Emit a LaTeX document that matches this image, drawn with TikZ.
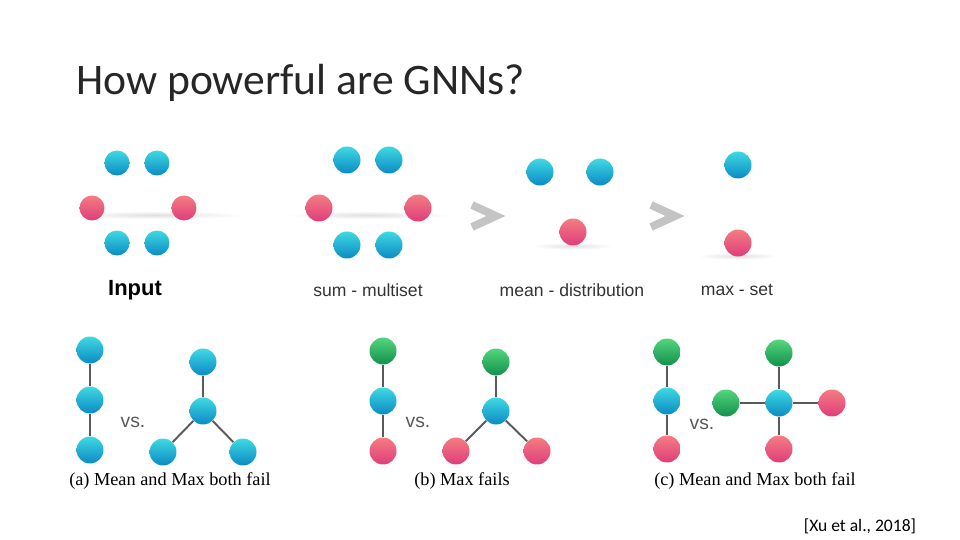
\documentclass[tikz,border=0pt]{standalone}
\usepackage{fontspec}
\setmainfont{Liberation Serif}
\setsansfont{Liberation Sans}
\newfontfamily\titlefont{Carlito}
\usetikzlibrary{positioning}
\definecolor{blueT}{HTML}{3FD9E2}
\definecolor{blueB}{HTML}{0B8AC4}
\definecolor{redT}{HTML}{F47D82}
\definecolor{redB}{HTML}{DF3D7A}
\definecolor{greenT}{HTML}{52D67C}
\definecolor{greenB}{HTML}{13904D}
\definecolor{edgegray}{HTML}{5A5A5A}
\definecolor{chevron}{HTML}{C4C4C4}
\definecolor{lbltext}{HTML}{333333}
\definecolor{titletext}{HTML}{262626}

\begin{document}
\begin{tikzpicture}[
  x=0.02cm, y=-0.02cm,
  dot/.style={circle, inner sep=0pt, minimum size=5.4mm},
  bdot/.style={dot, top color=blueT, bottom color=blueB},
  rdot/.style={dot, top color=redT, bottom color=redB},
  gdot/.style={dot, top color=greenT, bottom color=greenB},
  small/.style={minimum size=5mm},
  link/.style={draw=edgegray, line width=1.1pt},
  setlbl/.style={font=\sffamily\fontsize{10}{12}\selectfont, text=lbltext},
  vslbl/.style={font=\sffamily\fontsize{11}{13}\selectfont, text=edgegray},
  caption/.style={font=\fontsize{10.4}{12}\selectfont},
  gt/.style={draw=chevron, line width=4.5pt, line join=miter}
]
  \fill[white] (0,0) rectangle (960,540);
  \useasboundingbox (0,0) rectangle (960,540);

  \node[font=\titlefont\fontsize{24.8}{30}\selectfont, text=titletext, anchor=base west] (title)
    at (70,95) {How powerful are GNNs?};

  % soft shadows under the sets
  \shade[inner color=black!12, outer color=white] (155,215) ellipse [x radius=90, y radius=4];
  \shade[inner color=black!12, outer color=white] (369,215) ellipse [x radius=82, y radius=4];
  \shade[inner color=black!12, outer color=white] (573,246) ellipse [x radius=40, y radius=3.5];
  \shade[inner color=black!12, outer color=white] (738,256) ellipse [x radius=40, y radius=3.5];

  % input
  \node[bdot, small] (in1) at (117,163) {};
  \node[bdot, small] (in2) at (157,163) {};
  \node[rdot, small] (in3) at (92,208) {};
  \node[rdot, small] (in4) at (184,208) {};
  \node[bdot, small] (in5) at (117,243) {};
  \node[bdot, small] (in6) at (157,243) {};
  \node[font=\sffamily\bfseries\fontsize{12.5}{14}\selectfont] (inlbl) at (135,290) {Input};

  % sum
  \node[bdot] (su1) at (347,160) {};
  \node[bdot] (su2) at (389,160) {};
  \node[rdot] (su3) at (319,208) {};
  \node[rdot] (su4) at (418,208) {};
  \node[bdot] (su5) at (347,245) {};
  \node[bdot] (su6) at (389,245) {};
  \node[setlbl] (sulbl) at (368,290) {sum - multiset};

  \draw[gt] (472,205) -- (496,216) -- (472,227);

  % mean
  \node[bdot] (me1) at (540,172) {};
  \node[bdot] (me2) at (600,172) {};
  \node[rdot] (me3) at (573,232) {};
  \node[setlbl] (melbl) at (572,290) {mean - distribution};

  \draw[gt] (651,205) -- (675,216) -- (651,227);

  % max
  \node[bdot] (mx1) at (738,165) {};
  \node[rdot] (mx2) at (738,243) {};
  \node[setlbl] (mxlbl) at (737,290) {max - set};

  % (a)
  \node[bdot] (a1) at (90,350) {};
  \node[bdot] (a2) at (90,400) {};
  \node[bdot] (a3) at (90,450) {};
  \draw[link] (a1) -- (a2) -- (a3);
  \node[vslbl] (avs) at (133,422) {vs.};
  \node[bdot] (a4) at (203,362) {};
  \node[bdot] (a5) at (203,411) {};
  \node[bdot] (a6) at (163,452) {};
  \node[bdot] (a7) at (243,452) {};
  \draw[link] (a4) -- (a5) (a5) -- (a6) (a5) -- (a7);
  \node[caption] (acap) at (170,481) {(a) Mean and Max both fail};

  % (b)
  \node[gdot] (b1) at (383,351) {};
  \node[bdot] (b2) at (383,401) {};
  \node[rdot] (b3) at (383,451) {};
  \draw[link] (b1) -- (b2) -- (b3);
  \node[vslbl] (bvs) at (418,422) {vs.};
  \node[gdot] (b4) at (496,362) {};
  \node[bdot] (b5) at (496,411) {};
  \node[rdot] (b6) at (456,451) {};
  \node[rdot] (b7) at (537,451) {};
  \draw[link] (b4) -- (b5) (b5) -- (b6) (b5) -- (b7);
  \node[caption] (bcap) at (462,481) {(b) Max fails};

  % (c)
  \node[gdot] (c1) at (667,352) {};
  \node[bdot] (c2) at (667,401) {};
  \node[rdot] (c3) at (667,449) {};
  \draw[link] (c1) -- (c2) -- (c3);
  \node[vslbl] (cvs) at (702,424) {vs.};
  \node[gdot] (c4) at (779,353) {};
  \node[bdot] (c5) at (779,403) {};
  \node[gdot] (c6) at (726,403) {};
  \node[rdot] (c7) at (832,403) {};
  \node[rdot] (c8) at (779,449) {};
  \draw[link] (c4) -- (c5) (c6) -- (c5) (c5) -- (c7) (c5) -- (c8);
  \node[caption] (ccap) at (755,481) {(c) Mean and Max both fail};

  \node[font=\titlefont\fontsize{10}{12}\selectfont] (cite) at (860,526) {[Xu et al., 2018]};
\end{tikzpicture}
\end{document}
